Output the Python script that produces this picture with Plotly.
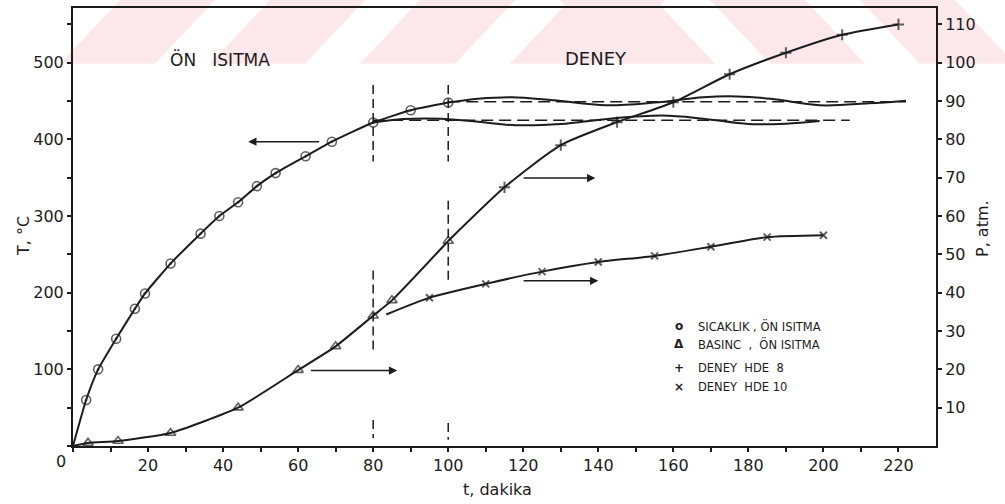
import plotly.graph_objects as go

# ---------------- data ----------------
# Preheating temperature (SICAKLIK, ÖN ISITMA) - left axis, °C
t_sicaklik = [0, 3.5, 6.7, 11.5, 16.5, 19.2, 26, 34, 39, 44, 49, 54, 62, 69, 80, 90, 100]
T_sicaklik = [0, 60, 100, 140, 179, 199, 238, 277, 300, 318, 339, 356, 378, 397, 422, 438, 448]

# Preheating pressure (BASINC, ÖN ISITMA) - right axis, atm
t_basinc = [0, 4, 12, 26, 44, 60, 70, 80, 85, 100]
P_basinc = [0, 0.8, 1.3, 3.4, 10, 19.8, 26, 34, 38, 53.5]

# Experiment HDE 8 pressure - right axis
t_hde8 = [100, 115, 130, 145, 160, 175, 190, 205, 220]
P_hde8 = [53.5, 67.5, 78.5, 84.5, 89.7, 97.0, 102.6, 107.3, 110]

# Experiment HDE 10 pressure - right axis
t_hde10 = [83.5, 95, 110, 125, 140, 155, 170, 185, 200]
P_hde10 = [34.3, 38.7, 42.3, 45.5, 48.0, 49.6, 52, 54.5, 55]

# Experiment temperatures (wavy) - left axis
t_T8 = [100, 108, 117, 128, 142, 155, 168, 177, 186, 199, 212, 222]
T_T8 = [448, 453, 455, 451, 444.5, 448, 455, 456, 453, 444.5, 447, 450.5]
t_T10 = [80, 88, 98, 108, 118, 130, 143, 157, 168, 180, 190, 199]
T_T10 = [422, 426.5, 427, 423, 418.5, 420, 427, 431, 427, 420, 420.5, 424]

# Set-point (dashed) temperature levels
setpoint_T = [449, 425]
setpoint_t = [[100, 222], [80, 207]]

# Vertical dashed phase boundaries (t) and their drawn T spans
phase_t = [80, 100]
phase_spans = [
    [[471, 371], [229, 122], [34, 10]],
    [[471, 371], [320, 213], [30, 8]],
]

# Axis ticks
x_ticks = list(range(0, 230, 10))
x_labels = ["" if (v % 20 or v == 0) else str(v) for v in x_ticks]
T_ticks = list(range(0, 551, 50))
T_labels = ["" if (v % 100 or v == 0) else str(v) for v in T_ticks]
P_ticks = list(range(10, 111, 10))
P_labels = [str(v) for v in P_ticks]

# Direction arrows: (t_start, t_end, level, axis)
arrows = [
    (66, 46.7, 397, "y"),
    (63, 86.4, 19.7, "y2"),
    (119.7, 139.2, 69.9, "y2"),
    (119.7, 140, 43.1, "y2"),
]

legend_items = [
    ("o", "SICAKLIK , ÖN ISITMA"),
    ("Δ", "BASINC\u00a0 ,\u00a0 ÖN ISITMA"),
    ("+", "DENEY\u00a0 HDE\u00a0 8"),
    ("×", "DENEY\u00a0 HDE 10"),
]

# ---------------- figure ----------------
INK = "#1c1c1c"
FONT = "DejaVu Sans"
L, R, TOP, BOT = 73, 936, 6, 446
PW, PH = R - L, BOT - TOP


def px(xp):
    return (xp - L) / PW


def py(yp):
    return (BOT - yp) / PH


fig = go.Figure()

fig.add_trace(go.Scatter(
    x=t_sicaklik, y=T_sicaklik, mode="lines+markers", line=dict(color=INK, width=2, shape="spline", smoothing=0.5),
    marker=dict(symbol="circle-open-dot", size=[0] + [9] * (len(t_sicaklik) - 1), color=INK, line=dict(width=1.6)),
    showlegend=False))

fig.add_trace(go.Scatter(
    x=t_basinc, y=P_basinc, yaxis="y2", mode="lines+markers", line=dict(color=INK, width=2, shape="spline", smoothing=0.5),
    marker=dict(symbol="triangle-up-open", size=[0] + [9] * (len(t_basinc) - 1), color=INK, line=dict(width=1.6)),
    showlegend=False))

fig.add_trace(go.Scatter(
    x=t_hde8, y=P_hde8, yaxis="y2", mode="lines+markers", line=dict(color=INK, width=2, shape="spline", smoothing=0.6),
    marker=dict(symbol="cross-thin-open", size=[0] + [8] * (len(t_hde8) - 1), color=INK, line=dict(width=2, color=INK)),
    showlegend=False))

fig.add_trace(go.Scatter(
    x=t_hde10, y=P_hde10, yaxis="y2", mode="lines+markers", line=dict(color=INK, width=2, shape="spline", smoothing=0.6),
    marker=dict(symbol="x-thin-open", size=[0] + [7] * (len(t_hde10) - 1), color=INK, line=dict(width=2, color=INK)),
    showlegend=False))

for tt, TT in [(t_T8, T_T8), (t_T10, T_T10)]:
    fig.add_trace(go.Scatter(x=tt, y=TT, mode="lines", line=dict(color=INK, width=2, shape="spline", smoothing=1.0),
                             showlegend=False))

for lvl, span in zip(setpoint_T, setpoint_t):
    fig.add_trace(go.Scatter(x=span, y=[lvl, lvl], mode="lines", line=dict(color=INK, width=1.5, dash="12px,6px"),
                             showlegend=False))

for pt, spans in zip(phase_t, phase_spans):
    xs, ys = [], []
    for a, b in spans:
        xs += [pt, pt, None]
        ys += [a, b, None]
    fig.add_trace(go.Scatter(x=xs, y=ys, mode="lines", line=dict(color=INK, width=1.5, dash="9px,5px"),
                             showlegend=False))

annotations = []
for t0, t1, lvl, ax in arrows:
    annotations.append(dict(x=t1, y=lvl, ax=t0, ay=lvl, xref="x", yref=ax, axref="x", ayref=ax,
                            showarrow=True, arrowhead=2, arrowsize=1.1, arrowwidth=1.5, arrowcolor=INK, text=""))

# phase texts
annotations.append(dict(x=px(220), y=py(58), xref="paper", yref="paper", text="ÖN\u00a0\u00a0\u00a0ISITMA",
                        showarrow=False, xanchor="center", yanchor="middle", font=dict(family=FONT, size=17, color=INK)))
annotations.append(dict(x=px(596), y=py(57), xref="paper", yref="paper", text="DENEY", showarrow=False,
                        xanchor="center", yanchor="middle", font=dict(family=FONT, size=18, color=INK)))

# legend block
leg_y = [325, 344, 368, 387]
for (sym, txt), yp in zip(legend_items, leg_y):
    annotations.append(dict(x=px(679), y=py(yp), xref="paper", yref="paper", text="<b>" + sym + "</b>",
                            showarrow=False, xanchor="center", yanchor="middle",
                            font=dict(family=FONT, size=12, color=INK)))
    annotations.append(dict(x=px(696), y=py(yp), xref="paper", yref="paper", text=txt, showarrow=False,
                            xanchor="left", yanchor="middle", font=dict(family=FONT, size=11.5, color=INK)))

# axis titles and the offset zero label
annotations.append(dict(x=px(24), y=py(235), xref="paper", yref="paper", text="T, °C", textangle=-90,
                        xanchor="center", yanchor="middle", showarrow=False, font=dict(family=FONT, size=16, color=INK)))
annotations.append(dict(x=px(983), y=py(228), xref="paper", yref="paper", text="P, atm.", textangle=-90,
                        xanchor="center", yanchor="middle", showarrow=False, font=dict(family=FONT, size=16, color=INK)))
annotations.append(dict(x=px(497), y=py(490), xref="paper", yref="paper", text="t, dakika",
                        xanchor="center", yanchor="middle", showarrow=False, font=dict(family=FONT, size=16, color=INK)))
annotations.append(dict(x=px(61), y=py(462), xref="paper", yref="paper", text="0",
                        xanchor="center", yanchor="middle", showarrow=False, font=dict(family=FONT, size=16, color=INK)))

# faint watermark band at the top of the scan
shapes = []
PINK = "#fce8eb"
band_top, band_bot = -2, 62
for xb in range(60, 520, 150):
    path = (f"M {px(xb)} {py(band_bot)} L {px(xb + 95)} {py(band_bot)} "
            f"L {px(xb + 95 + 60)} {py(band_top)} L {px(xb + 60)} {py(band_top)} Z")
    shapes.append(dict(type="path", path=path, xref="paper", yref="paper", fillcolor=PINK, line=dict(width=0),
                       layer="below"))
for xt in range(560, 1010, 150):
    path = (f"M {px(xt)} {py(band_top)} L {px(xt + 95)} {py(band_top)} "
            f"L {px(xt + 95 + 60)} {py(band_bot)} L {px(xt + 60)} {py(band_bot)} Z")
    shapes.append(dict(type="path", path=path, xref="paper", yref="paper", fillcolor=PINK, line=dict(width=0),
                       layer="below"))

fig.update_layout(
    width=1005, height=504,
    margin=dict(l=L, r=1005 - R, t=TOP, b=504 - BOT),
    paper_bgcolor="white", plot_bgcolor="rgba(0,0,0,0)",
    font=dict(family=FONT, size=16, color=INK),
    xaxis=dict(range=[0, 230], tickvals=x_ticks, ticktext=x_labels, ticks="outside", ticklen=4, tickwidth=1.5,
               tickcolor=INK, showline=True, linecolor=INK, linewidth=2, mirror=True, showgrid=False, zeroline=False),
    yaxis=dict(range=[0, 571.4], tickvals=T_ticks, ticktext=T_labels, ticks="outside", ticklen=4, tickwidth=1.5,
               tickcolor=INK, showline=True, linecolor=INK, linewidth=2, showgrid=False, zeroline=False),
    yaxis2=dict(range=[0, 114.28], overlaying="y", side="right", tickvals=P_ticks, ticktext=P_labels,
                ticks="outside", ticklen=4, tickwidth=1.5, tickcolor=INK, showline=True, linecolor=INK, linewidth=2,
                showgrid=False, zeroline=False),
    annotations=annotations,
    shapes=shapes,
)

fig.write_html("out.html")
